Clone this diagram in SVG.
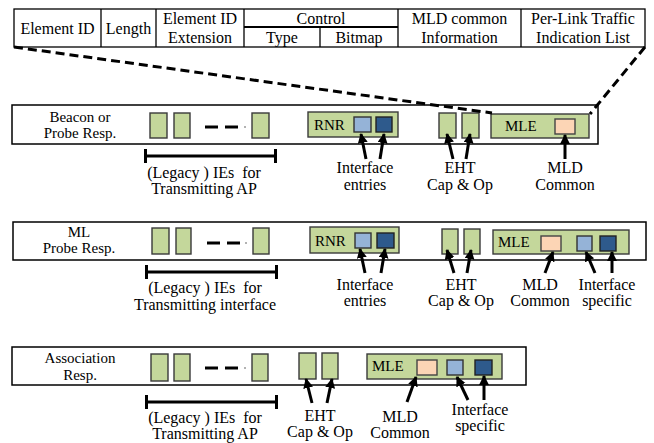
<svg xmlns="http://www.w3.org/2000/svg" width="654" height="443" viewBox="0 0 654 443" font-family="'Liberation Serif', Tinos, 'Times New Roman', 'Nimbus Roman', 'DejaVu Serif', serif">
  <defs>
    <marker id="ah" markerUnits="userSpaceOnUse" markerWidth="10" markerHeight="12" viewBox="0 0 10 12" refX="9" refY="5" orient="auto">
      <path d="M0,0 L10,5 L0,10 Z" fill="#000"/>
    </marker>
    <style>
      text { font-family: "Liberation Serif", Tinos, "Times New Roman", "Nimbus Roman", "DejaVu Serif", serif; fill: #000; }
      .t16 { font-size: 16px; text-anchor: middle; }
      .t15 { font-size: 15px; text-anchor: middle; }
      .lbl { font-size: 15px; }
      .cell { fill: #fff; stroke: #000; stroke-width: 1.3; }
      .frame { fill: #fff; stroke: #000; stroke-width: 1.5; }
      .ie { fill: #c4d79b; stroke: #3a3a3a; stroke-width: 1.4; }
      .lb { fill: #95b3d7; stroke: #333; stroke-width: 1.4; }
      .db { fill: #2e5a8c; stroke: #222; stroke-width: 1.4; }
      .pc { fill: #fcd5b5; stroke: #444; stroke-width: 1.4; }
      .dash { stroke: #000; stroke-width: 3; }
      .brk { stroke: #000; stroke-width: 3; fill: none; }
      .arr { stroke: #000; stroke-width: 3; fill: none; marker-end: url(#ah); }
      .zoom { stroke: #000; stroke-width: 3; stroke-dasharray: 9 5; fill: none; }
    </style>
  </defs>

  <!-- Multi-link element field layout -->
  <g id="mle-format">
    <rect class="cell" x="14" y="9" width="631" height="38"/>
    <line class="cell" x1="101" y1="9" x2="101" y2="47"/>
    <line class="cell" x1="156" y1="9" x2="156" y2="47"/>
    <line class="cell" x1="244" y1="9" x2="244" y2="47"/>
    <line class="cell" x1="398" y1="9" x2="398" y2="47"/>
    <line class="cell" x1="521" y1="9" x2="521" y2="47"/>
    <line class="cell" x1="244" y1="27" x2="398" y2="27" style="stroke-width:2"/>
    <line class="cell" x1="320" y1="27" x2="320" y2="47"/>
    <text class="t16" x="57.5" y="34">Element ID</text>
    <text class="t16" x="128.5" y="34">Length</text>
    <text class="t16" x="200" y="24">Element ID</text>
    <text class="t16" x="200" y="43">Extension</text>
    <text class="t16" x="321" y="24">Control</text>
    <text class="t16" x="282" y="43">Type</text>
    <text class="t16" x="359" y="43">Bitmap</text>
    <text class="t16" x="459.5" y="24">MLD common</text>
    <text class="t16" x="459.5" y="43">Information</text>
    <text class="t16" x="583" y="24">Per-Link Traffic</text>
    <text class="t16" x="583" y="43">Indication List</text>
  </g>

  <!-- Beacon / Probe Response frame -->
  <g id="beacon">
    <rect class="frame" x="12" y="105" width="586" height="39"/>
    <text class="t15" x="80" y="122">Beacon or</text>
    <text class="t15" x="80" y="138">Probe Resp.</text>
    <rect class="ie" x="150" y="113" width="17" height="25"/>
    <rect class="ie" x="174" y="113" width="16" height="25"/>
    <line class="dash" x1="205" y1="127" x2="218" y2="127"/>
    <line class="dash" x1="225" y1="127" x2="238" y2="127"/>
    <line x1="245" y1="126" x2="245" y2="128" stroke="#666" stroke-width="1"/>
    <rect class="ie" x="252" y="113" width="17" height="25"/>
    <rect class="ie" x="308" y="112" width="90" height="25"/>
    <text class="lbl" x="314" y="130">RNR</text>
    <rect class="lb" x="354" y="117" width="17" height="15"/>
    <rect class="db" x="376" y="117" width="16" height="15"/>
    <rect class="ie" x="439" y="113" width="17" height="25"/>
    <rect class="ie" x="462" y="113" width="17" height="25"/>
    <rect class="ie" x="491" y="114" width="98" height="24"/>
    <text class="lbl" x="505" y="131">MLE</text>
    <rect class="pc" x="555" y="119" width="20" height="15"/>
  </g>
  <g id="beacon-labels">
    <path class="brk" d="M144,156 H277 M145.5,149 V163 M275.5,149 V163"/>
    <text class="t16" x="204" y="178" style="white-space:pre">(Legacy ) IEs  for</text>
    <text class="t16" x="204" y="194">Transmitting AP</text>
    <text class="t16" x="365" y="173">Interface</text>
    <text class="t16" x="365" y="190">entries</text>
    <text class="t16" x="460" y="173">EHT</text>
    <text class="t16" x="460" y="190">Cap &amp; Op</text>
    <text class="t16" x="565" y="173">MLD</text>
    <text class="t16" x="565" y="190">Common</text>
  </g>

  <!-- Multi-link Probe Response frame -->
  <g id="ml-probe">
    <rect class="frame" x="13" y="222" width="633" height="38"/>
    <text class="t15" x="79" y="237">ML</text>
    <text class="t15" x="79" y="253">Probe Resp.</text>
    <rect class="ie" x="152" y="228" width="17" height="26"/>
    <rect class="ie" x="176" y="228" width="15" height="26"/>
    <line class="dash" x1="207" y1="243" x2="220" y2="243"/>
    <line class="dash" x1="227" y1="243" x2="240" y2="243"/>
    <line x1="246" y1="242" x2="246" y2="244" stroke="#666" stroke-width="1"/>
    <rect class="ie" x="253" y="228" width="16" height="26"/>
    <rect class="ie" x="310" y="227" width="89" height="26"/>
    <text class="lbl" x="315" y="246">RNR</text>
    <rect class="lb" x="355" y="233" width="16" height="15"/>
    <rect class="db" x="377" y="233" width="17" height="15"/>
    <rect class="ie" x="442" y="229" width="16" height="25"/>
    <rect class="ie" x="464" y="229" width="16" height="25"/>
    <rect class="ie" x="493" y="230" width="136" height="24"/>
    <text class="lbl" x="498" y="247">MLE</text>
    <rect class="pc" x="541" y="236" width="20" height="15"/>
    <rect class="lb" x="577" y="236" width="15" height="15"/>
    <rect class="db" x="600" y="236" width="16" height="15"/>
  </g>
  <g id="ml-probe-labels">
    <path class="brk" d="M145,272 H278 M146.5,265 V279 M276.5,265 V279"/>
    <text class="t16" x="205" y="293" style="white-space:pre">(Legacy ) IEs  for</text>
    <text class="t16" x="205" y="310">Transmitting interface</text>
    <text class="t16" x="365" y="290">Interface</text>
    <text class="t16" x="365" y="306">entries</text>
    <text class="t16" x="461" y="290">EHT</text>
    <text class="t16" x="461" y="306">Cap &amp; Op</text>
    <text class="t16" x="540" y="290">MLD</text>
    <text class="t16" x="540" y="306">Common</text>
    <text class="t16" x="607" y="290">Interface</text>
    <text class="t16" x="607" y="306">specific</text>
  </g>

  <!-- Association Response frame -->
  <g id="assoc">
    <rect class="frame" x="12" y="347" width="514" height="38"/>
    <text class="t15" x="80" y="363">Association</text>
    <text class="t15" x="80" y="380">Resp.</text>
    <rect class="ie" x="151" y="354" width="17" height="27"/>
    <rect class="ie" x="174" y="354" width="16" height="27"/>
    <line class="dash" x1="205" y1="368" x2="218" y2="368"/>
    <line class="dash" x1="225" y1="368" x2="238" y2="368"/>
    <line x1="245" y1="367" x2="245" y2="369" stroke="#666" stroke-width="1"/>
    <rect class="ie" x="252" y="354" width="16" height="27"/>
    <rect class="ie" x="299" y="353" width="17" height="26"/>
    <rect class="ie" x="322" y="353" width="16" height="26"/>
    <rect class="ie" x="367" y="354" width="135" height="25"/>
    <text class="lbl" x="372" y="371">MLE</text>
    <rect class="pc" x="417" y="360" width="20" height="15"/>
    <rect class="lb" x="447" y="360" width="16" height="15"/>
    <rect class="db" x="475" y="360" width="17" height="15"/>
  </g>
  <g id="assoc-labels">
    <path class="brk" d="M145,402 H278 M146.5,395 V409 M276.5,395 V409"/>
    <text class="t16" x="205" y="423" style="white-space:pre">(Legacy ) IEs  for</text>
    <text class="t16" x="205" y="439">Transmitting AP</text>
    <text class="t16" x="320" y="421">EHT</text>
    <text class="t16" x="320" y="437">Cap &amp; Op</text>
    <text class="t16" x="400" y="422">MLD</text>
    <text class="t16" x="400" y="438">Common</text>
    <text class="t16" x="480" y="415">Interface</text>
    <text class="t16" x="480" y="431">specific</text>
  </g>

  <!-- Connectors: zoom lines and pointer arrows -->
  <g id="connectors">
    <line class="zoom" x1="14" y1="47" x2="492" y2="113"/>
    <line class="zoom" x1="645" y1="47" x2="590" y2="114"/>

    <line class="arr" x1="366" y1="159" x2="361" y2="134"/>
    <line class="arr" x1="380" y1="159" x2="384" y2="134"/>
    <line class="arr" x1="453" y1="159" x2="447" y2="134"/>
    <line class="arr" x1="466" y1="159" x2="470" y2="134"/>
    <line class="arr" x1="565" y1="159" x2="565" y2="135"/>

    <line class="arr" x1="365" y1="273" x2="360" y2="249"/>
    <line class="arr" x1="381" y1="273" x2="385" y2="249"/>
    <line class="arr" x1="454" y1="273" x2="447" y2="250"/>
    <line class="arr" x1="467" y1="273" x2="471" y2="250"/>
    <line class="arr" x1="545" y1="273" x2="553" y2="252"/>
    <line class="arr" x1="595" y1="273" x2="586" y2="252"/>
    <line class="arr" x1="612" y1="273" x2="612" y2="252"/>

    <line class="arr" x1="312" y1="403" x2="306" y2="379"/>
    <line class="arr" x1="327" y1="403" x2="332" y2="379"/>
    <line class="arr" x1="407" y1="402" x2="416" y2="377"/>
    <line class="arr" x1="468" y1="400" x2="457" y2="377"/>
    <line class="arr" x1="484" y1="400" x2="484" y2="376"/>
  </g>
</svg>
